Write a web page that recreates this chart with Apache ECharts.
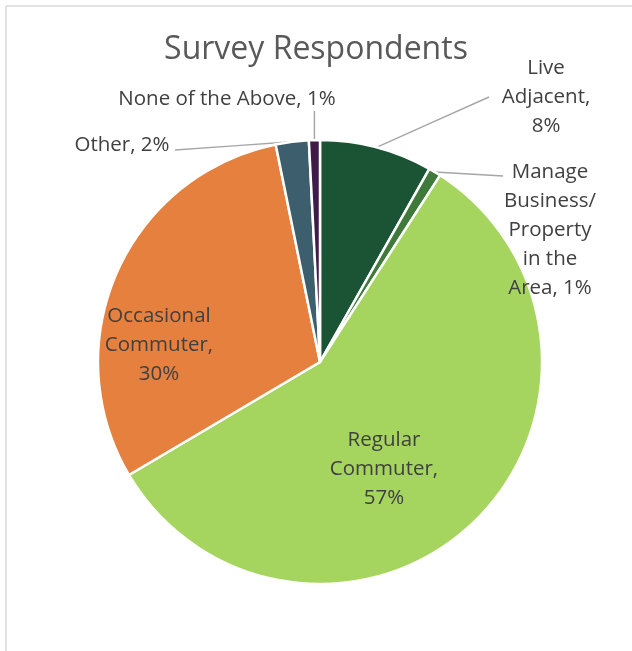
<!DOCTYPE html>
<html>
<head>
<meta charset="utf-8">
<script src="https://cdn.jsdelivr.net/npm/echarts@6/dist/echarts.min.js"></script>
<style>
html,body{margin:0;padding:0;background:#fff;}
#chart{width:632px;height:651px;}
</style>
</head>
<body>
<div id="chart"></div>
<script>
const categories = ["Live Adjacent", "Manage Business/ Property in the Area", "Regular Commuter", "Occasional Commuter", "Other", "None of the Above"];
const labelNames = ["Live\nAdjacent,\n", "Manage\nBusiness/\nProperty\nin the\nArea, ", "Regular\nCommuter,\n", "Occasional\nCommuter,\n", "Other, ", "None of the Above, "];
const values = [8.2, 0.9, 57.4, 30.3, 2.4, 0.8];
const colors = ["#1b5434", "#3f7a3a", "#a5d55f", "#e5803f", "#3d5e6d", "#3f1b4a"];
const titleText = "Survey Respondents";

const labelPos = [
  {x: 546, y: 97},
  {x: 550, y: 230},
  {x: 384, y: 469},
  {x: 159, y: 345},
  {x: 122, y: 145},
  {x: 227, y: 99}
];
// end points of leader lines (null = no line)
const lineEnd = [
  {x: 489, y: 97},
  {x: 503, y: 176},
  null,
  null,
  {x: 175, y: 150},
  {x: null, y: 111}
];

const chart = echarts.init(document.getElementById('chart'), null, {renderer: 'canvas'});
const FONT = '"Open Sans"';

const data = categories.map((c, i) => ({
  name: c,
  value: values[i],
  itemStyle: {color: colors[i]},
  labelLine: {show: lineEnd[i] !== null},
  label: {
    formatter: function (p) {
      return labelNames[i] + Math.round(p.value) + '%';
    }
  }
}));

chart.setOption({
  animation: false,
  backgroundColor: '#ffffff',
  title: {
    text: titleText,
    left: 'center',
    top: 29,
    textStyle: {fontFamily: FONT, fontSize: 32, fontWeight: 'normal', color: '#595959'}
  },
  graphic: [
    {type: 'line', shape: {x1: 6, y1: 6, x2: 632, y2: 6}, style: {stroke: '#d9d9d9', lineWidth: 1.5}, silent: true},
    {type: 'line', shape: {x1: 6, y1: 6, x2: 6, y2: 651}, style: {stroke: '#d9d9d9', lineWidth: 1.5}, silent: true}
  ],
  series: [{
    type: 'pie',
    center: [320, 362],
    radius: 222,
    startAngle: 90,
    clockwise: true,
    avoidLabelOverlap: false,
    itemStyle: {borderColor: '#ffffff', borderWidth: 2.5},
    label: {
      show: true,
      position: 'outside',
      fontFamily: FONT,
      fontSize: 20.5,
      lineHeight: 29,
      color: '#404040',
      align: 'center'
    },
    labelLine: {
      show: true,
      length: 10,
      length2: 10,
      smooth: false,
      lineStyle: {color: '#a6a6a6', width: 1.5}
    },
    labelLayout: function (params) {
      const i = params.dataIndex;
      const p = labelPos[i];
      const out = {x: p.x, y: p.y, align: 'center', verticalAlign: 'middle', hideOverlap: false};
      const e = lineEnd[i];
      if (e && params.labelLinePoints) {
        const s = params.labelLinePoints[0];
        const ex = e.x === null ? s[0] : e.x;
        out.labelLinePoints = [[s[0], s[1]], [(s[0] + ex) / 2, (s[1] + e.y) / 2], [ex, e.y]];
      }
      return out;
    },
    data: data
  }]
});
</script>
</body>
</html>
